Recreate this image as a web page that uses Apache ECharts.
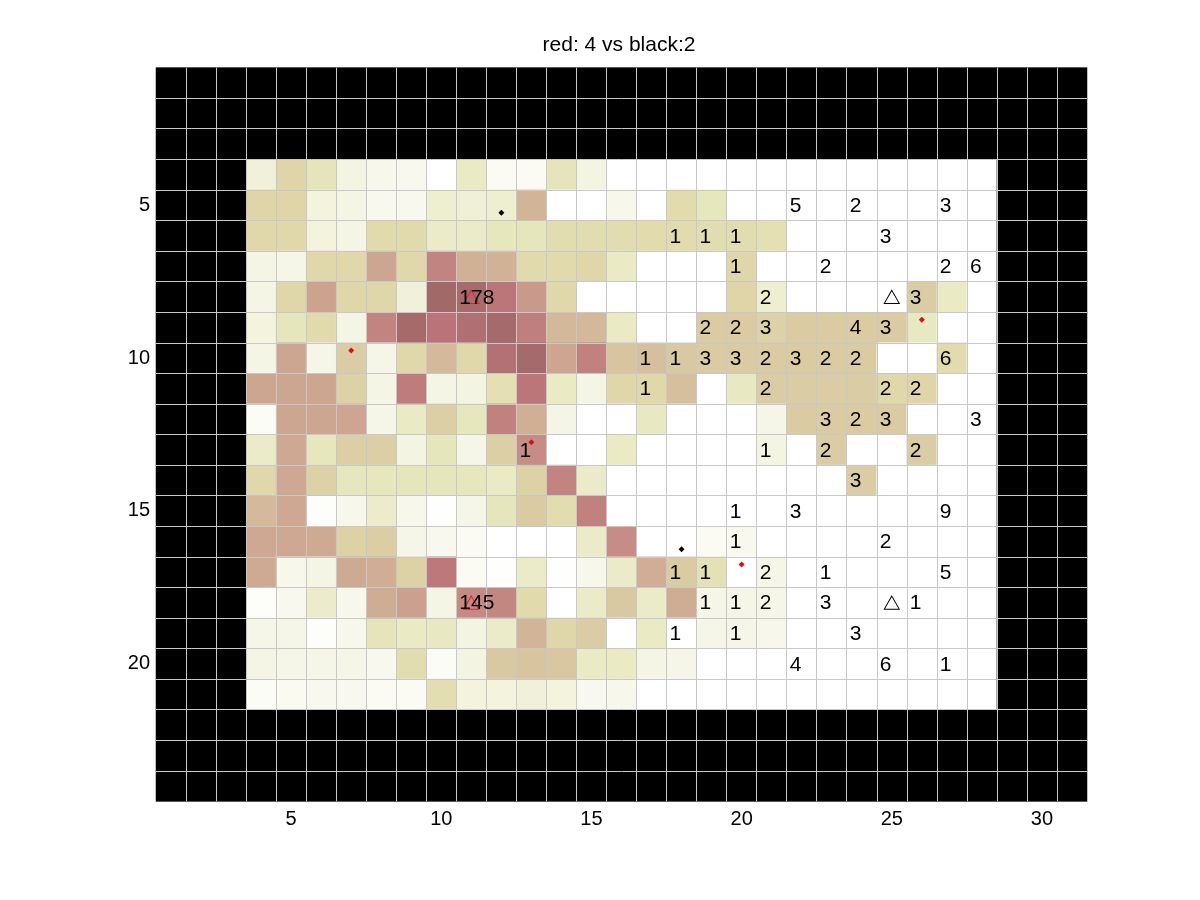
<!DOCTYPE html>
<html>
<head>
<meta charset="utf-8">
<title>red: 4 vs black:2</title>
<style>
  html, body { margin: 0; background: #fff; }
  #chart { width: 1200px; height: 900px; }
</style>
<script src="https://cdn.jsdelivr.net/npm/echarts@6/dist/echarts.min.js"></script>
</head>
<body>
<div id="chart"></div>
<script>
const FONT = '"Liberation Sans", Arial, sans-serif'

const colLabels = Array.from({ length: 31 }, (_, i) => String(i + 1))
const rowLabels = Array.from({ length: 24 }, (_, i) => String(i + 1))

// board covers columns 4-28, rows 4-21, everything else is black
const firstCol = 4
const lastCol = 28
const firstRow = 4
const lastRow = 21

// shade, 0 = white, 100 = darkest; one line per row, columns 4-28
const row4 = [12, 32, 22, 10, 7, 6, 0, 18, 4, 4, 22, 10, 0, 0, 0, 0, 0, 0, 0, 0, 0, 0, 0, 0, 0]
const row5 = [32, 32, 11, 9, 6, 6, 15, 13, 15, 50, 0, 0, 7, 0, 28, 20, 0, 0, 0, 0, 0, 0, 0, 0, 0]
const row6 = [30, 30, 11, 9, 29, 29, 17, 17, 20, 21, 27, 27, 27, 28, 28, 27, 27, 25, 0, 0, 0, 0, 0, 0, 0]
const row7 = [9, 8, 30, 30, 58, 30, 70, 52, 51, 29, 29, 31, 18, 0, 0, 0, 31, 0, 0, 0, 0, 0, 0, 0, 0]
const row8 = [9, 31, 60, 31, 31, 12, 97, 93, 78, 63, 30, 0, 0, 0, 0, 0, 32, 15, 0, 0, 0, 0, 38, 18, 0]
const row9 = [11, 21, 29, 9, 70, 94, 80, 86, 95, 73, 48, 48, 18, 0, 0, 39, 39, 34, 39, 39, 39, 39, 19, 0, 0]
const row10 = [9, 58, 8, 38, 8, 30, 47, 30, 84, 95, 59, 71, 42, 45, 40, 39, 39, 39, 39, 39, 39, 0, 0, 28, 0]
const row11 = [58, 58, 58, 35, 9, 75, 9, 10, 25, 78, 18, 9, 31, 30, 45, 0, 19, 38, 38, 38, 38, 30, 32, 0, 0]
const row12 = [3, 58, 58, 59, 8, 18, 36, 20, 72, 53, 9, 0, 0, 19, 0, 0, 0, 8, 39, 39, 39, 39, 0, 0, 0]
const row13 = [17, 57, 20, 36, 36, 10, 21, 8, 36, 67, 0, 0, 18, 0, 0, 0, 0, 10, 0, 38, 0, 0, 38, 0, 0]
const row14 = [30, 57, 35, 20, 20, 21, 21, 20, 18, 35, 70, 17, 0, 0, 0, 0, 0, 0, 0, 0, 38, 0, 0, 0, 0]
const row15 = [47, 57, 2, 7, 16, 7, 1, 8, 21, 39, 27, 72, 0, 0, 0, 0, 0, 0, 0, 0, 0, 0, 0, 0, 0]
const row16 = [57, 57, 56, 35, 37, 8, 6, 4, 0, 0, 0, 17, 67, 0, 0, 4, 6, 0, 0, 0, 0, 0, 0, 0, 0]
const row17 = [56, 7, 9, 56, 54, 35, 77, 4, 1, 17, 1, 7, 17, 54, 39, 24, 0, 8, 0, 0, 0, 0, 0, 0, 0]
const row18 = [2, 6, 16, 7, 55, 61, 9, 68, 69, 29, 0, 17, 40, 17, 55, 8, 8, 8, 0, 0, 0, 0, 0, 0, 0]
const row19 = [8, 8, 2, 7, 22, 18, 19, 10, 17, 50, 31, 38, 0, 18, 0, 8, 8, 7, 0, 0, 0, 0, 0, 0, 0]
const row20 = [9, 8, 8, 8, 6, 27, 3, 10, 40, 42, 41, 18, 18, 9, 8, 0, 0, 0, 0, 0, 0, 0, 0, 0, 0]
const row21 = [3, 5, 6, 6, 4, 4, 26, 11, 11, 12, 11, 6, 7, 0, 0, 0, 0, 0, 0, 0, 0, 0, 0, 0, 0]
const shadeRows = [row4, row5, row6, row7, row8, row9, row10, row11, row12, row13, row14, row15, row16, row17, row18, row19, row20, row21]

// [column, row, text]
const notes = [
  [22, 5, '5'], [24, 5, '2'], [27, 5, '3'],
  [18, 6, '1'], [19, 6, '1'], [20, 6, '1'], [25, 6, '3'],
  [20, 7, '1'], [23, 7, '2'], [27, 7, '2'], [28, 7, '6'],
  [11, 8, '178'], [21, 8, '2'], [26, 8, '3'],
  [19, 9, '2'], [20, 9, '2'], [21, 9, '3'], [24, 9, '4'], [25, 9, '3'],
  [17, 10, '1'], [18, 10, '1'], [19, 10, '3'], [20, 10, '3'], [21, 10, '2'], [22, 10, '3'], [23, 10, '2'], [24, 10, '2'], [27, 10, '6'],
  [17, 11, '1'], [21, 11, '2'], [25, 11, '2'], [26, 11, '2'],
  [23, 12, '3'], [24, 12, '2'], [25, 12, '3'], [28, 12, '3'],
  [13, 13, '1'], [21, 13, '1'], [23, 13, '2'], [26, 13, '2'],
  [24, 14, '3'],
  [20, 15, '1'], [22, 15, '3'], [27, 15, '9'],
  [20, 16, '1'], [25, 16, '2'],
  [18, 17, '1'], [19, 17, '1'], [21, 17, '2'], [23, 17, '1'], [27, 17, '5'],
  [11, 18, '145'], [19, 18, '1'], [20, 18, '1'], [21, 18, '2'], [23, 18, '3'], [26, 18, '1'],
  [18, 19, '1'], [20, 19, '1'], [24, 19, '3'],
  [22, 20, '4'], [25, 20, '6'], [27, 20, '1']
]

const redTriangles = [[11, 8], [11, 18]]
const blackTriangles = [[25, 8], [25, 18]]
const redDots = [[7, 9.75], [26, 8.75], [13, 12.75], [20, 16.75]]
const blackDots = [[12, 5.25], [18, 16.25]]

const shadeColors = ['#ffffff', '#f4f4e2', '#e7e7be', '#e0d8aa', '#d9c9a2', '#d2b498', '#cca38f', '#c28480', '#b97379', '#aa6c6e', '#9f6767']

const shadeData = []
shadeRows.forEach((values, r) => {
  values.forEach((v, c) => shadeData.push([c + firstCol - 1, r + firstRow - 1, v]))
})

const maskData = []
colLabels.forEach((_, c) => {
  rowLabels.forEach((_, r) => {
    if (c + 1 < firstCol || c + 1 > lastCol || r + 1 < firstRow || r + 1 > lastRow) maskData.push([c, r, 1])
  })
})

const chart = echarts.init(document.getElementById('chart'), null, { renderer: 'canvas' })

const categoryAxis = (data, labelExtra, extra) => ({
  type: 'category',
  data,
  z: 5,
  axisLine: { show: false },
  axisTick: { show: false },
  axisLabel: {
    color: '#000',
    fontFamily: FONT,
    fontSize: 20,
    interval: (i) => (i + 1) % 5 === 0,
    ...labelExtra
  },
  splitLine: {
    show: true,
    interval: 0,
    showMinLine: false,
    showMaxLine: false,
    lineStyle: { color: '#c8c8c8', width: 1 }
  },
  ...extra
})

const markSeries = (data, symbol, size, itemStyle) => ({
  type: 'scatter',
  xAxisIndex: 1,
  yAxisIndex: 1,
  z: 6,
  silent: true,
  symbol,
  symbolSize: size,
  itemStyle: { opacity: 1, ...itemStyle },
  data
})

chart.setOption({
  animation: false,
  backgroundColor: '#fff',
  title: {
    text: 'red: 4 vs black:2',
    left: 614,
    top: 30,
    textAlign: 'center',
    textStyle: { color: '#000', fontFamily: FONT, fontSize: 21, fontWeight: 'normal' }
  },
  grid: { left: 156, top: 67.6, width: 931, height: 733.8 },
  xAxis: [
    categoryAxis(colLabels, { margin: 8 }),
    { type: 'value', min: 0.5, max: 31.5, show: false }
  ],
  yAxis: [
    categoryAxis(rowLabels, { margin: 6, padding: [2, 0, 0, 0] }, { inverse: true }),
    { type: 'value', min: 0.5, max: 24.5, inverse: true, show: false }
  ],
  visualMap: {
    show: false,
    seriesIndex: 0,
    dimension: 2,
    min: 0,
    max: 100,
    inRange: { color: shadeColors }
  },
  series: [
    { name: 'shade', type: 'heatmap', progressive: 0, silent: true, data: shadeData },
    { name: 'mask', type: 'heatmap', progressive: 0, silent: true, itemStyle: { color: '#000' }, data: maskData },
    markSeries(redTriangles, 'triangle', [15, 13], { color: 'transparent', borderColor: '#e8202a', borderWidth: 1 }),
    markSeries(blackTriangles, 'triangle', [15, 13], { color: 'transparent', borderColor: '#000', borderWidth: 1 }),
    markSeries(redDots, 'diamond', 6, { color: '#d8101c' }),
    markSeries(blackDots, 'diamond', 6, { color: '#000' }),
    {
      name: 'notes',
      type: 'scatter',
      xAxisIndex: 1,
      yAxisIndex: 1,
      z: 7,
      silent: true,
      symbolSize: 0,
      itemStyle: { opacity: 1 },
      label: {
        show: true,
        position: 'inside',
        align: 'left',
        verticalAlign: 'middle',
        offset: [-12, 1],
        color: '#000',
        opacity: 1,
        fontFamily: FONT,
        fontSize: 21,
        formatter: (p) => p.value[2]
      },
      data: notes
    }
  ]
})
</script>
</body>
</html>
